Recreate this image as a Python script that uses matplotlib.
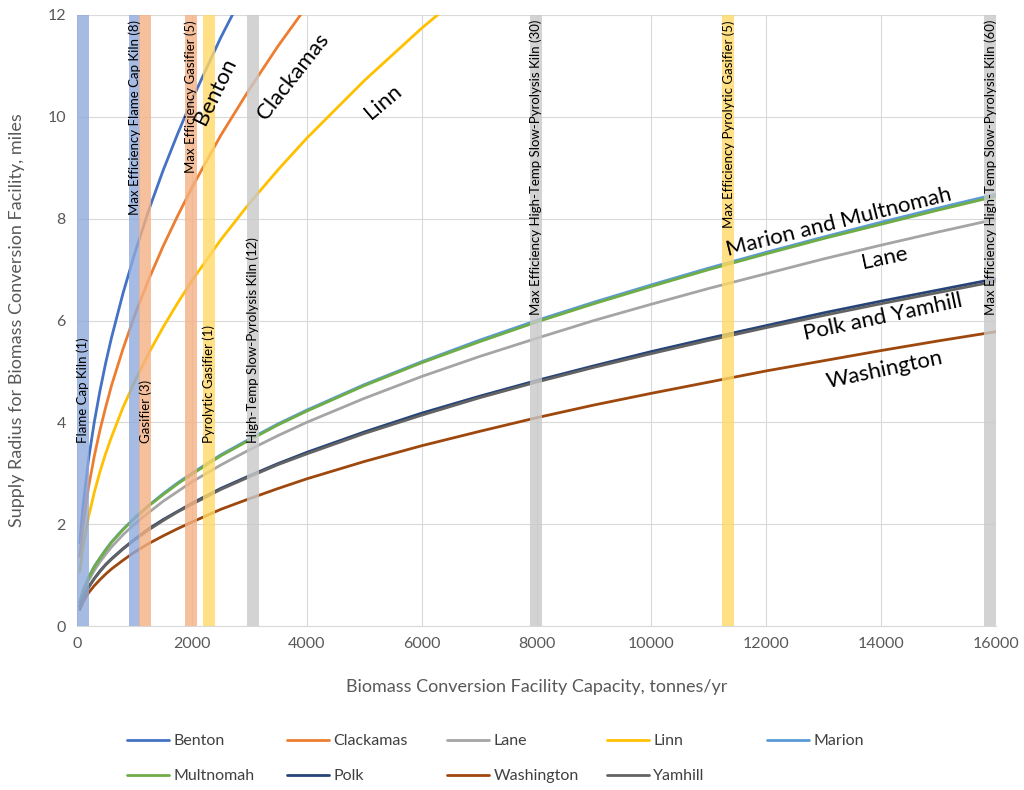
import matplotlib
matplotlib.use("Agg")
import matplotlib.pyplot as plt

plt.rcParams['font.family'] = ['Lato', 'DejaVu Sans']

capacity = [50, 100, 200, 300, 400, 500, 600, 800, 1000, 1250, 1500, 1750, 2000,
            2500, 3000, 3500, 4000, 5000, 6000, 7000, 8000, 9000, 10000, 11000,
            12000, 13000, 14000, 15000, 16000]

benton = [1.63, 2.31, 3.27, 4.00, 4.62, 5.17, 5.66, 6.53, 7.30, 8.17, 8.95, 9.66, 10.33,
          11.55, 12.65]
clackamas = [1.36, 1.93, 2.72, 3.33, 3.85, 4.30, 4.72, 5.44, 6.09, 6.81, 7.46, 8.05, 8.61,
             9.63, 10.54, 11.39, 12.17]
lane = [0.45, 0.63, 0.89, 1.09, 1.26, 1.41, 1.55, 1.79, 2.00, 2.23, 2.45, 2.64, 2.83,
        3.16, 3.46, 3.74, 4.00, 4.47, 4.90, 5.29, 5.65, 6.00, 6.32, 6.63, 6.92, 7.21,
        7.48, 7.74, 7.99]
linn = [1.07, 1.52, 2.14, 2.62, 3.03, 3.39, 3.71, 4.29, 4.79, 5.36, 5.87, 6.34, 6.78,
        7.58, 8.30, 8.96, 9.58, 10.71, 11.74, 12.68]
marion = [0.48, 0.68, 0.95, 1.17, 1.34, 1.50, 1.65, 1.90, 2.12, 2.37, 2.60, 2.81, 3.00,
          3.36, 3.67, 3.97, 4.24, 4.74, 5.19, 5.61, 6.00, 6.36, 6.70, 7.03, 7.34, 7.64,
          7.93, 8.21, 8.48]
multnomah = [0.47, 0.67, 0.94, 1.16, 1.33, 1.49, 1.64, 1.89, 2.11, 2.36, 2.58, 2.79, 2.98,
             3.34, 3.65, 3.95, 4.22, 4.72, 5.17, 5.58, 5.97, 6.33, 6.67, 7.00, 7.31, 7.61,
             7.89, 8.17, 8.44]
polk = [0.38, 0.54, 0.76, 0.93, 1.08, 1.21, 1.32, 1.52, 1.70, 1.91, 2.09, 2.25, 2.41,
        2.70, 2.95, 3.19, 3.41, 3.81, 4.18, 4.51, 4.82, 5.11, 5.39, 5.65, 5.90, 6.15,
        6.38, 6.60, 6.82]
washington = [0.32, 0.46, 0.65, 0.79, 0.91, 1.02, 1.12, 1.29, 1.45, 1.62, 1.77, 1.91, 2.04,
              2.29, 2.50, 2.70, 2.89, 3.23, 3.54, 3.82, 4.09, 4.34, 4.57, 4.79, 5.01, 5.21,
              5.41, 5.60, 5.78]
yamhill = [0.38, 0.54, 0.76, 0.93, 1.07, 1.20, 1.31, 1.51, 1.69, 1.89, 2.07, 2.24, 2.39,
           2.68, 2.93, 3.17, 3.38, 3.78, 4.14, 4.48, 4.79, 5.08, 5.35, 5.61, 5.86, 6.10,
           6.33, 6.55, 6.77]

counties = ["Benton", "Clackamas", "Lane", "Linn", "Marion", "Multnomah", "Polk",
            "Washington", "Yamhill"]
series = [benton, clackamas, lane, linn, marion, multnomah, polk, washington, yamhill]
colors = ["#4472C4", "#ED7D31", "#A5A5A5", "#FFC000", "#5B9BD5", "#70AD47", "#264478",
          "#9E480E", "#636363"]

tech_labels = ["Flame Cap Kiln (1)", "Max Efficiency Flame Cap Kiln (8)", "Gasifier (3)",
               "Max Efficiency Gasifier (5)", "Pyrolytic Gasifier (1)",
               "High-Temp Slow-Pyrolysis Kiln (12)",
               "Max Efficiency High-Temp Slow-Pyrolysis Kiln (30)",
               "Max Efficiency Pyrolytic Gasifier (5)",
               "Max Efficiency High-Temp Slow-Pyrolysis Kiln (60)"]
tech_capacity = [100, 1000, 1190, 1985, 2300, 3065, 7990, 11340, 15900]
tech_colors = ["#8FAADC", "#8FAADC", "#F4B183", "#F4B183", "#FFD966", "#C9C9C9",
               "#C9C9C9", "#FFD966", "#C9C9C9"]
tech_label_top = [False, True, False, True, False, False, True, True, True]
bar_width = 205

curve_labels = ["Benton", "Clackamas", "Linn", "Marion and Multnomah", "Lane",
                "Polk and Yamhill", "Washington"]
curve_label_x = [2400, 3760, 5330, 13263, 14065, 14030, 14065]
curve_label_y = [10.5, 10.8, 10.3, 7.94, 7.23, 6.07, 5.03]
curve_label_rot = [64, 52, 40, 14, 12, 12, 12]

fig = plt.figure(figsize=(10.24, 7.9), dpi=100)
ax = fig.add_axes([77 / 1024, 1 - 626 / 790, (996 - 77) / 1024, (626 - 15) / 790])

handles = []
for name, ys, c in zip(counties, series, colors):
    h, = ax.plot(capacity[:len(ys)], ys, color=c, lw=2.0, label=name, zorder=3,
                 solid_capstyle='round')
    handles.append(h)

for lab, xc, c, top in zip(tech_labels, tech_capacity, tech_colors, tech_label_top):
    ax.axvspan(xc - bar_width / 2, xc + bar_width / 2, color=c, alpha=0.8, lw=0, zorder=4)
    if top:
        ax.text(xc, 11.9, lab, rotation=90, ha='center', va='top', fontsize=9.5,
                color='black', zorder=5)
    else:
        ax.text(xc, 3.6, lab, rotation=90, ha='center', va='bottom', fontsize=9.5,
                color='black', zorder=5)

for lab, lx, ly, rot in zip(curve_labels, curve_label_x, curve_label_y, curve_label_rot):
    ax.text(lx, ly, lab, rotation=rot, ha='center', va='center', fontsize=16,
            color='black', zorder=6, rotation_mode='anchor')

ax.set_xlim(0, 16000)
ax.set_ylim(0, 12)
ax.set_xticks(range(0, 16001, 2000))
ax.set_yticks(range(0, 13, 2))
ax.grid(True, color='#D9D9D9', lw=0.8, zorder=0)
ax.set_axisbelow(True)
for s in ['top', 'right', 'left']:
    ax.spines[s].set_visible(False)
ax.spines['bottom'].set_color('#D9D9D9')
ax.tick_params(axis='both', length=0, labelsize=11.5, colors='#595959', pad=8)
ax.set_xlabel("Biomass Conversion Facility Capacity, tonnes/yr", fontsize=13,
              color='#595959', labelpad=20)
ax.set_ylabel("Supply Radius for Biomass Conversion Facility, miles", fontsize=13,
              color='#595959', labelpad=16)

col_x = [127 / 1024, 287 / 1024, 447 / 1024, 607 / 1024, 767 / 1024]
for i in range(5):
    hs = [handles[i]] + ([handles[i + 5]] if i + 5 < len(handles) else [])
    fig.legend(handles=hs, loc='upper left', bbox_to_anchor=(col_x[i], 1 - 734 / 790),
               frameon=False, fontsize=11.5, handlelength=2.6, handletextpad=0.3,
               labelspacing=1.3, borderaxespad=0, borderpad=0, labelcolor='#404040')

fig.savefig("out.png", dpi=100)
